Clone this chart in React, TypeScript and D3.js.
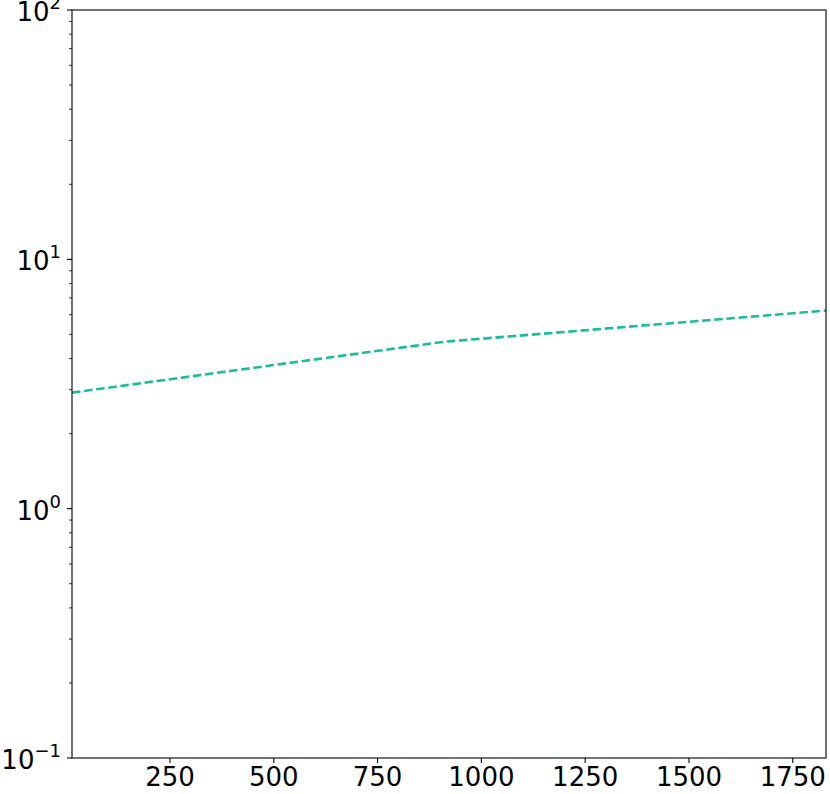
import React from "react";
import * as d3 from "d3";

const seriesX = [14, 910, 1830];
const seriesY = [2.92, 4.67, 6.23];
const xTicks = [250, 500, 750, 1000, 1250, 1500, 1750];
const yTickExps = [-1, 0, 1, 2];
const xDomain = [14, 1830];
const yDomain = [0.1, 100];

const W = 830;
const H = 794;
const M = { left: 72, right: 826, top: 10, bottom: 758 };
const FONT = "DejaVu Sans, sans-serif";
const COLOR = "#1abc9c";

export default function App() {
  const x = d3.scaleLinear().domain(xDomain).range([M.left, M.right]);
  const y = d3.scaleLog().domain(yDomain).range([M.bottom, M.top]);
  const pts: [number, number][] = seriesX.map((v, i) => [v, seriesY[i]]);
  const line = d3
    .line<[number, number]>()
    .x((d) => x(d[0]))
    .y((d) => y(d[1]));

  const minor: number[] = [];
  for (let e = -1; e < 2; e++) {
    for (let k = 2; k <= 9; k++) minor.push(k * Math.pow(10, e));
  }

  return (
    <svg
      width={W}
      height={H}
      style={{ position: "absolute", left: 0, top: 0, background: "#fff" }}
      fontFamily={FONT}
    >
      <rect x={0} y={0} width={W} height={H} fill="#fff" />
      <defs>
        <clipPath id="plotclip">
          <rect x={M.left} y={M.top} width={M.right - M.left} height={M.bottom - M.top} />
        </clipPath>
      </defs>
      <path
        d={line(pts) || ""}
        fill="none"
        stroke={COLOR}
        strokeWidth={2.6}
        strokeDasharray="8.5,3.7"
        clipPath="url(#plotclip)"
      />
      {/* spines */}
      <rect
        x={M.left}
        y={M.top}
        width={M.right - M.left}
        height={M.bottom - M.top}
        fill="none"
        stroke="#000"
        strokeWidth={1.1}
      />
      {/* x ticks */}
      {xTicks.map((t) => (
        <g key={"x" + t}>
          <line x1={x(t)} x2={x(t)} y1={M.bottom} y2={M.bottom + 5} stroke="#000" strokeWidth={1.1} />
          <text x={x(t)} y={786} textAnchor="middle" fontSize={26} fill="#000">
            {t}
          </text>
        </g>
      ))}
      {/* y minor ticks */}
      {minor.map((v, i) => (
        <line key={"m" + i} x1={M.left - 3} x2={M.left} y1={y(v)} y2={y(v)} stroke="#000" strokeWidth={0.8} />
      ))}
      {/* y major ticks */}
      {yTickExps.map((e) => {
        const yy = y(Math.pow(10, e));
        return (
          <g key={"y" + e}>
            <line x1={M.left - 5} x2={M.left} y1={yy} y2={yy} stroke="#000" strokeWidth={1.1} />
            <text x={61} y={yy + 11} textAnchor="end" fontSize={26} fill="#000">
              10
              <tspan fontSize={18} dy={-12}>
                {e < 0 ? "\u2212" + Math.abs(e) : String(e)}
              </tspan>
            </text>
          </g>
        );
      })}
    </svg>
  );
}
